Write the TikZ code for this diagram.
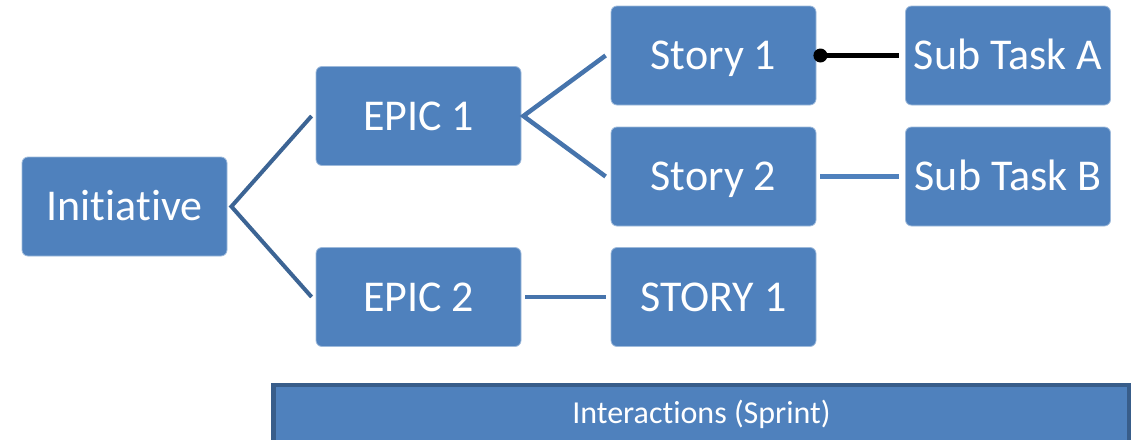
\documentclass[tikz,border=0pt]{standalone}
\usepackage{fontspec}
\setmainfont{Carlito}[Ligatures=NoCommon]
\definecolor{boxblue}{HTML}{4F81BD}
\definecolor{linkdark}{HTML}{3C6494}
\definecolor{linkblue}{HTML}{4674AC}
\definecolor{barborder}{HTML}{385D8A}
\tikzset{
  card/.style={rounded corners=6pt, fill=boxblue, draw=boxblue!55!white, line width=0.8pt,
    minimum width=205pt, minimum height=99pt, inner sep=0pt, text=white,
    text height=28.3pt, text depth=0pt,
    font=\fontsize{44}{50}\selectfont},
  band/.style={fill=boxblue, draw=barborder, line width=4.5pt,
    minimum width=856pt, minimum height=60pt, inner sep=0pt, text=white,
    text height=20.6pt, text depth=0pt,
    font=\fontsize{32}{38}\selectfont},
  trunk/.style={draw=linkdark, line width=4pt},
  branch/.style={draw=linkblue, line width=4.5pt},
  leaf/.style={draw=boxblue, line width=4.5pt},
  pinned/.style={draw=black, line width=5pt},
}
\begin{document}
\begin{tikzpicture}[x=1pt,y=-1pt]
\useasboundingbox (0,0) rectangle (1131,439);
\clip (0,0) rectangle (1131,439);

% hierarchy cards
\node[card] (ini)    at (124.5,206.5) {Initiative};
\node[card] (epic1)  at (418.5,116)   {EPIC 1};
\node[card] (epic2)  at (418.5,297)   {EPIC 2};
\node[card] (story1) at (713.5,55.5)  {Story 1};
\node[card] (story2) at (713.5,176.5) {Story 2};
\node[card] (story3) at (713.5,297)   {STORY 1};
\node[card] (subA)   at (1008,55.5)   {Sub Task A};
\node[card] (subB)   at (1008,176.5)  {Sub Task B};

% sprint band along the bottom
\node[band] (sprint) at (701.5,415) {\raisebox{1.5pt}{Interactions (Sprint)}};

% connectors
\draw[trunk] ([xshift=-4pt]epic1.west) -- ([xshift=4pt]ini.east) -- ([xshift=-4pt]epic2.west);
\draw[branch] ([xshift=-5pt]story1.west) -- ([xshift=2pt]epic1.east) -- ([xshift=-5pt]story2.west);
\draw[branch] ([xshift=4pt]epic2.east) -- ([xshift=-5pt]story3.west);
\draw[leaf] ([xshift=4pt]story2.east) -- ([xshift=-6pt]subB.west);
\coordinate (dotA) at ([xshift=4pt]story1.east);
\draw[pinned] (dotA) -- ([xshift=-6pt]subA.west);
\fill[black] (dotA) circle (7pt);
\end{tikzpicture}
\end{document}
